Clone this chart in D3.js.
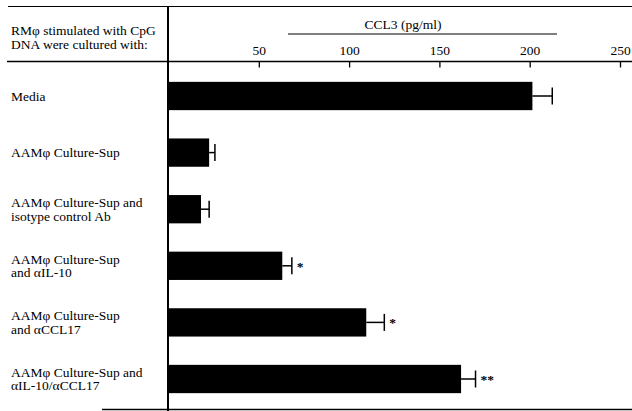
<!DOCTYPE html>
<html>
<head>
<meta charset="utf-8">
<script src="https://cdn.jsdelivr.net/npm/d3@7"></script>
<style>
  body { margin: 0; background: #fff; }
  svg { display: block; }
  text { font-family: "Liberation Serif", "Times New Roman", serif; fill: #000; }
</style>
</head>
<body>
<svg id="chart" width="632" height="411"></svg>
<script>
// ---- data ----
const categories = [
  "Media",
  "AAMφ Culture-Sup",
  "AAMφ Culture-Sup and isotype control Ab",
  "AAMφ Culture-Sup and αIL-10",
  "AAMφ Culture-Sup and αCCL17",
  "AAMφ Culture-Sup and αIL-10/αCCL17"
];
const labelLines = [
  ["Media"],
  ["AAMφ Culture-Sup"],
  ["AAMφ Culture-Sup and", "isotype control Ab"],
  ["AAMφ Culture-Sup", "and αIL-10"],
  ["AAMφ Culture-Sup", "and αCCL17"],
  ["AAMφ Culture-Sup and", "αIL-10/αCCL17"]
];
const values = [201.5, 22.5, 18, 63, 109.5, 162];
const errors = [11, 3.2, 4.5, 5.3, 10, 8];
const significance = ["", "", "", "*", "*", "**"];
const tickValues = [50, 100, 150, 200, 250];
const axisTitle = "CCL3 (pg/ml)";
const headerLines = ["RMφ stimulated with CpG", "DNA were cultured with:"];

// ---- layout ----
const svg = d3.select("#chart");
const fs = 13.5;
const lh = 13.5;
const axisY = 61.5;
const x = d3.scaleLinear().domain([0, 250]).range([168.5, 620]);
const y = d3.scaleBand().domain(categories).range([67.7, 407.3])
  .paddingInner(0.5).paddingOuter(0.25);

// frame lines
svg.append("line").attr("x1", 8).attr("x2", 632).attr("y1", 6.5).attr("y2", 6.5)
  .attr("stroke", "#000").attr("stroke-width", 1);
svg.append("line").attr("x1", 7).attr("x2", 632).attr("y1", axisY).attr("y2", axisY)
  .attr("stroke", "#000").attr("stroke-width", 1.3);
svg.append("line").attr("x1", 102).attr("x2", 632).attr("y1", 409.5).attr("y2", 409.5)
  .attr("stroke", "#000").attr("stroke-width", 1.3);
svg.append("line").attr("x1", x(0) - 0.5).attr("x2", x(0) - 0.5).attr("y1", 7).attr("y2", 411)
  .attr("stroke", "#000").attr("stroke-width", 2);

// header text
svg.append("g").selectAll("text").data(headerLines).join("text")
  .attr("x", 11).attr("y", (d, i) => 37.2 - lh / 2 + i * lh).attr("dy", "0.35em")
  .attr("font-size", fs).text(d => d);

// axis title
svg.append("text").attr("x", 403).attr("y", 24).attr("dy", "0.35em")
  .attr("text-anchor", "middle").attr("font-size", fs).text(axisTitle);
svg.append("line").attr("x1", 288).attr("x2", 557).attr("y1", 34).attr("y2", 34)
  .attr("stroke", "#000").attr("stroke-width", 1.2);

// axis
const axis = d3.axisTop(x).tickValues(tickValues).tickSizeInner(-6).tickSizeOuter(0).tickPadding(7);
const ag = svg.append("g").attr("transform", `translate(0,${axisY})`).call(axis);
ag.select(".domain").remove();
ag.selectAll(".tick line").attr("stroke", "#000").attr("stroke-width", 1.3);
ag.selectAll(".tick text").attr("font-size", fs)
  .attr("font-family", "Liberation Serif, Times New Roman, serif").attr("fill", "#000");

// bars
svg.append("g").selectAll("rect").data(categories).join("rect")
  .attr("x", x(0))
  .attr("y", d => y(d))
  .attr("width", (d, i) => x(values[i]) - x(0))
  .attr("height", y.bandwidth())
  .attr("fill", "#000");

// error bars
const eg = svg.append("g").attr("stroke", "#000").attr("stroke-width", 1.5);
categories.forEach((c, i) => {
  const cy = y(c) + y.bandwidth() / 2;
  eg.append("line").attr("x1", x(values[i])).attr("x2", x(values[i] + errors[i]))
    .attr("y1", cy).attr("y2", cy);
  eg.append("line").attr("x1", x(values[i] + errors[i])).attr("x2", x(values[i] + errors[i]))
    .attr("y1", cy - 8.5).attr("y2", cy + 8.5);
});

// significance marks
svg.append("g").selectAll("text").data(categories).join("text")
  .attr("x", (d, i) => x(values[i] + errors[i]) + 5)
  .attr("y", d => y(d) + y.bandwidth() / 2 + 5)
  .attr("font-size", fs).attr("font-weight", "bold")
  .text((d, i) => significance[i]);

// category labels
categories.forEach((c, i) => {
  const cy = y(c) + y.bandwidth() / 2;
  const lines = labelLines[i];
  const start = cy - (lines.length - 1) * lh / 2;
  svg.append("g").selectAll("text").data(lines).join("text")
    .attr("x", 11).attr("y", (d, k) => start + k * lh).attr("dy", "0.35em")
    .attr("font-size", fs).text(d => d);
});
</script>
</body>
</html>
